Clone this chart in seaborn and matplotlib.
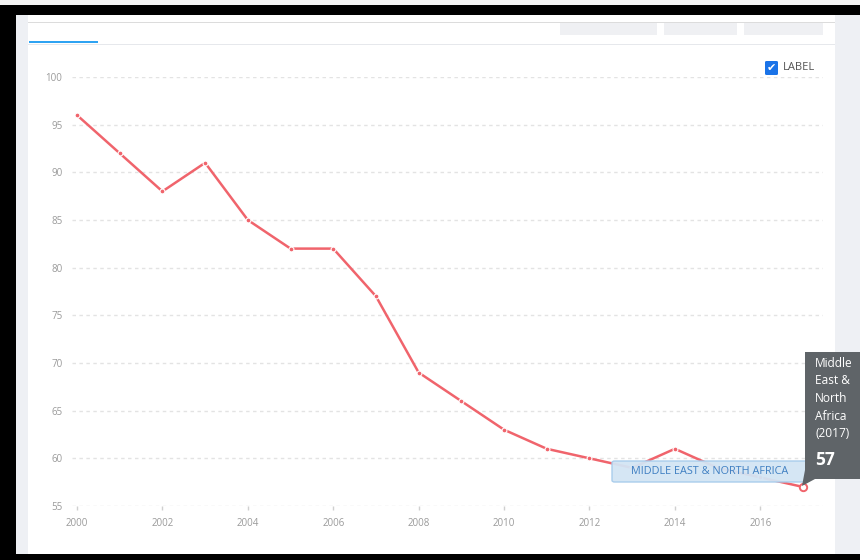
import numpy as np
import pandas as pd
import matplotlib
matplotlib.use("Agg")
import matplotlib.pyplot as plt
from matplotlib.patches import Rectangle, FancyBboxPatch, Polygon
import seaborn as sns

# ── data ──────────────────────────────────────────────────────────────────────
years = [2000, 2001, 2002, 2003, 2004, 2005, 2006, 2007, 2008,
         2009, 2010, 2011, 2012, 2013, 2014, 2015, 2016, 2017]
values = [96, 92, 88, 91, 85, 82, 82, 77, 69,
          66, 63, 61, 60, 59, 61, 59, 58, 57]
y_ticks = [55, 60, 65, 70, 75, 80, 85, 90, 95, 100]
x_ticks = [2000, 2002, 2004, 2006, 2008, 2010, 2012, 2014, 2016]
series_name = "MIDDLE EAST & NORTH AFRICA"
tooltip_title = "Middle\nEast &\nNorth\nAfrica\n(2017)"

df = pd.DataFrame({"year": years, "value": values})

LINE = "#f0646c"
GRID = "#e3e3e3"
TICK = "#9a9a9a"

sns.set_theme(style="white")
plt.rcParams["font.family"] = ["Open Sans", "DejaVu Sans"]

W, H = 860, 560
fig = plt.figure(figsize=(W / 100, H / 100), dpi=100)


def px(x0, y0, x1, y1):
    """pixel box -> figure fraction rect (left, bottom, width, height)"""
    return (x0 / W, 1 - y1 / H, (x1 - x0) / W, (y1 - y0) / H)


def frect(x0, y0, x1, y1, color, z=0):
    l, b, w, h = px(x0, y0, x1, y1)
    fig.patches.append(Rectangle((l, b), w, h, transform=fig.transFigure,
                                 facecolor=color, edgecolor="none", zorder=z))


# ── page chrome ──────────────────────────────────────────────────────────────
frect(0, 0, W, 5, "#f4f4f4")
frect(0, 5, W, 15, "#000000")
frect(0, 5, 16, H, "#000000")
frect(0, 554, W, H, "#000000")
frect(16, 15, 28, 554, "#eef0f4")
frect(835, 15, W, 554, "#eef0f4")
frect(28, 22, 835, 23, "#dcdcdc")
for x0, x1 in [(560, 657), (664, 737), (744, 823)]:
    frect(x0, 23, x1, 35, "#eff0f3")
frect(29, 41, 98, 43, "#2ea3f2")
frect(28, 44, 835, 45, "#e6e8ec")

# ── chart ────────────────────────────────────────────────────────────────────
ax = fig.add_axes(px(72, 77, 823, 506))
ax.set_facecolor("none")
sns.lineplot(data=df, x="year", y="value", ax=ax, color=LINE, lw=1.8,
             marker="o", markersize=3.5, markerfacecolor=LINE,
             markeredgecolor="white", markeredgewidth=0.8, clip_on=False,
             zorder=3)
last = df.iloc[[-1]]
sns.scatterplot(data=last, x="year", y="value", ax=ax, s=28,
                facecolor="white", edgecolor=LINE, linewidth=1.4,
                zorder=5, clip_on=False)

ax.set_xlim(2000 - 5 / 42.7, 2017 + 20 / 42.7)
ax.set_ylim(55, 100)
ax.set_yticks(y_ticks)
ax.set_xticks(x_ticks)
ax.set_xticklabels([str(x) for x in x_ticks])
ax.grid(axis="y", color=GRID, lw=1, ls=(0, (2.5, 2.5)))
ax.grid(axis="x", visible=False)
for s in ax.spines.values():
    s.set_visible(False)
ax.tick_params(axis="y", length=0, pad=7, labelsize=7, labelcolor=TICK)
ax.tick_params(axis="x", length=3, width=1, color="#d0d0d0", pad=6,
               labelsize=7, labelcolor=TICK, bottom=True, direction="out")
ax.set_xlabel("")
ax.set_ylabel("")

# series label box
l, b, w, h = px(612, 461, 808, 482)
fig.patches.append(FancyBboxPatch((l, b), w, h, transform=fig.transFigure,
                                  boxstyle="round,pad=0,rounding_size=0.003",
                                  facecolor="#d3e5f4", edgecolor="#a6cbeb",
                                  lw=1, alpha=0.95, zorder=6))
fig.text(710 / W, 1 - 471.5 / H, series_name, ha="center", va="center",
         fontsize=7.8, color="#3f7fc2", zorder=7)

# tooltip
frect(805, 352, W, 479, "#5f6468", z=8)
tri = [(805 / W, 1 - 470 / H), (815 / W, 1 - 479 / H), (802 / W, 1 - 486 / H)]
fig.patches.append(Polygon(tri, closed=True, transform=fig.transFigure,
                           facecolor="#5f6468", edgecolor="none", zorder=8))
fig.text(815 / W, 1 - 357 / H, tooltip_title, ha="left", va="top",
         fontsize=8.6, color="white", linespacing=1.45, zorder=9)
fig.text(815 / W, 1 - 460 / H, str(values[-1]), ha="left", va="center",
         fontsize=12.5, color="white", fontweight="bold", zorder=9)

# checkbox legend
l, b, w, h = px(765, 61, 778, 75)
fig.patches.append(FancyBboxPatch((l, b), w, h, transform=fig.transFigure,
                                  boxstyle="round,pad=0,rounding_size=0.002",
                                  facecolor="#1a73e8", edgecolor="none",
                                  zorder=6))
fig.text(771.5 / W, 1 - 68.5 / H, "\u2714", ha="center", va="center",
         fontsize=8, color="white", family="DejaVu Sans", zorder=7)
fig.text(783 / W, 1 - 68 / H, "LABEL", ha="left", va="center",
         fontsize=8, color="#555555", zorder=7)

fig.savefig("out.png", dpi=100)
